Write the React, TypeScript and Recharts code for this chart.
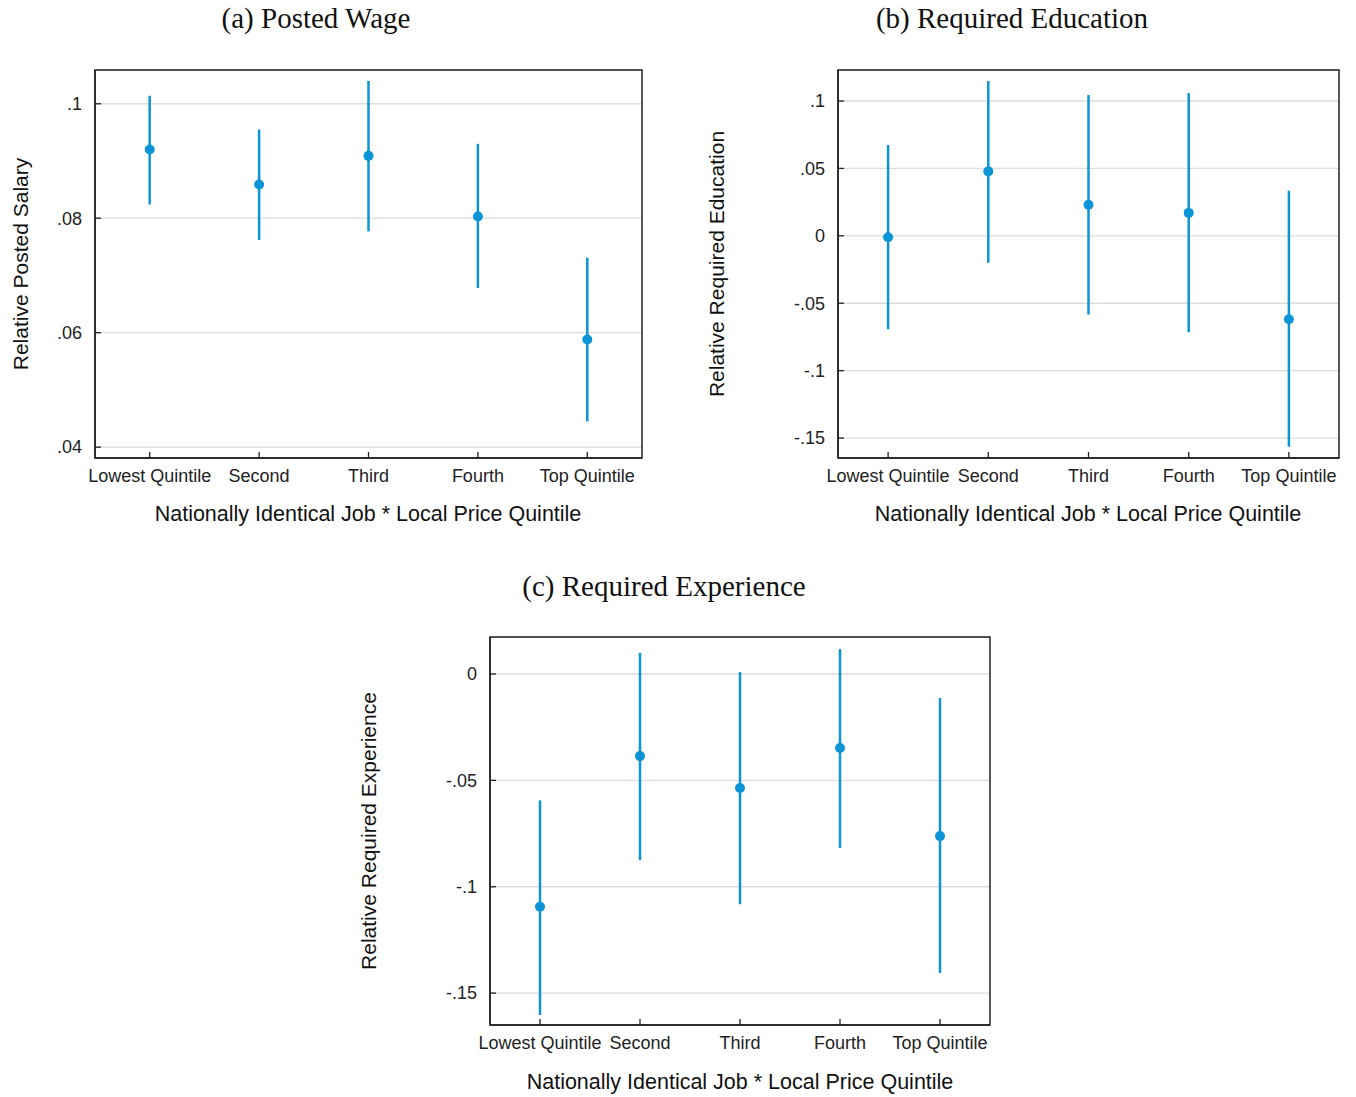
import { ScatterChart, Scatter, XAxis, YAxis, CartesianGrid, ErrorBar, ReferenceArea } from "recharts";

const categories = ["Lowest Quintile", "Second", "Third", "Fourth", "Top Quintile"];

const wageEst = [0.092, 0.0859, 0.0909, 0.0803, 0.0588];
const wageLo = [0.0824, 0.0762, 0.0777, 0.0678, 0.0445];
const wageHi = [0.1014, 0.0955, 0.104, 0.093, 0.0731];
const wageTicks = [0.04, 0.06, 0.08, 0.1];

const eduEst = [-0.001, 0.0478, 0.023, 0.017, -0.0619];
const eduLo = [-0.0693, -0.02, -0.0584, -0.0715, -0.1565];
const eduHi = [0.0674, 0.1148, 0.1045, 0.1059, 0.0334];
const eduTicks = [-0.15, -0.1, -0.05, 0, 0.05, 0.1];

const expEst = [-0.1094, -0.0386, -0.0536, -0.0348, -0.0762];
const expLo = [-0.1603, -0.0875, -0.1082, -0.0818, -0.1406];
const expHi = [-0.0594, 0.0099, 0.0009, 0.0118, -0.0113];
const expTicks = [-0.15, -0.1, -0.05, 0];

const blue = "#0b95d6";
const ink = "#222";
const sans = "'Liberation Sans', Arial, sans-serif";
const serif = "'Liberation Serif', 'Times New Roman', serif";

const fmt = (v: number) => (v === 0 ? "0" : (v < 0 ? "-" : "") + String(Math.abs(v)).replace(/^0/, ""));

const build = (est: number[], lo: number[], hi: number[]) =>
  est.map((y, i) => ({ x: i + 1, y, err: [y - lo[i], hi[i] - y] }));

const YTick = (p: any) => (
  <g>
    <line x1={p.x + 13} x2={p.x + 19} y1={p.y} y2={p.y} stroke={ink} strokeWidth={1.3} />
    <text x={p.x} y={p.y} dy="0.35em" textAnchor="end" fontSize={18} fontFamily={sans} fill="#222">
      {fmt(p.payload.value)}
    </text>
  </g>
);

const XTick = (p: any) => (
  <g>
    <line x1={p.x} x2={p.x} y1={p.y - 11} y2={p.y - 17} stroke={ink} strokeWidth={1.3} />
    <text x={p.x} y={p.y} dy="0.71em" textAnchor="middle" fontSize={18} fontFamily={sans} fill="#222">
      {categories[p.payload.value - 1]}
    </text>
  </g>
);

type PanelProps = {
  left: number; top: number; width: number; height: number;
  est: number[]; lo: number[]; hi: number[]; ticks: number[]; domain: [number, number];
};

function Panel({ left, top, width, height, est, lo, hi, ticks, domain }: PanelProps) {
  const data = build(est, lo, hi);
  return (
    <div style={{ position: "absolute", left, top }}>
      <ScatterChart width={width} height={height} margin={{ top: 10, right: 10, bottom: 0, left: 0 }}>
        <CartesianGrid horizontal vertical={false} stroke="#dcdcdc" strokeWidth={1.3} />
        <XAxis type="number" dataKey="x" domain={[0.5, 5.5]} ticks={[1, 2, 3, 4, 5]} allowDataOverflow
          height={40} tickSize={0} tickMargin={11} tickLine={false} axisLine={{ stroke: ink, strokeWidth: 1.5 }} tick={<XTick />} />
        <YAxis type="number" dataKey="y" domain={domain} ticks={ticks} allowDataOverflow
          width={60} tickSize={0} tickMargin={13} tickLine={false} axisLine={{ stroke: ink, strokeWidth: 1.5 }} tick={<YTick />} />
        <ReferenceArea x1={0.5} x2={5.5} y1={domain[0]} y2={domain[1]} fill="none" stroke={ink} strokeWidth={1.5} ifOverflow="visible" />
        <Scatter data={data} fill={blue} isAnimationActive={false}
          shape={(s: any) => <circle cx={s.cx} cy={s.cy} r={5} fill={blue} />}>
          <ErrorBar dataKey="err" direction="y" width={0} stroke={blue} strokeWidth={2.5} isAnimationActive={false} />
        </Scatter>
      </ScatterChart>
    </div>
  );
}

const Txt = ({ x, y, size, family, rotate, children }: any) => (
  <div style={{
    position: "absolute", left: x, top: y, transform: `translate(-50%, -50%)${rotate ? " rotate(-90deg)" : ""}`,
    fontSize: size, fontFamily: family, whiteSpace: "nowrap", color: "#111", lineHeight: 1,
  }}>{children}</div>
);

export default function App() {
  const xTitle = "Nationally Identical Job * Local Price Quintile";
  return (
    <div style={{ position: "absolute", left: 0, top: 0, width: 1356, height: 1097, background: "#fff" }}>
      <Txt x={316} y={18} size={29} family={serif}>(a) Posted Wage</Txt>
      <Txt x={1012} y={18} size={29} family={serif}>(b) Required Education</Txt>
      <Txt x={664} y={586} size={29} family={serif}>(c) Required Experience</Txt>

      <Panel left={35} top={60} width={617} height={438} est={wageEst} lo={wageLo} hi={wageHi}
        ticks={wageTicks} domain={[0.0381, 0.1059]} />
      <Panel left={778} top={60} width={571} height={438} est={eduEst} lo={eduLo} hi={eduHi}
        ticks={eduTicks} domain={[-0.1648, 0.123]} />
      <Panel left={430} top={627} width={570} height={438} est={expEst} lo={expLo} hi={expHi}
        ticks={expTicks} domain={[-0.165, 0.0174]} />

      <Txt x={20} y={264} size={21} family={sans} rotate>Relative Posted Salary</Txt>
      <Txt x={716} y={264} size={21} family={sans} rotate>Relative Required Education</Txt>
      <Txt x={368} y={831} size={21} family={sans} rotate>Relative Required Experience</Txt>

      <Txt x={368} y={515} size={21.5} family={sans}>{xTitle}</Txt>
      <Txt x={1088} y={515} size={21.5} family={sans}>{xTitle}</Txt>
      <Txt x={740} y={1083} size={21.5} family={sans}>{xTitle}</Txt>
    </div>
  );
}
